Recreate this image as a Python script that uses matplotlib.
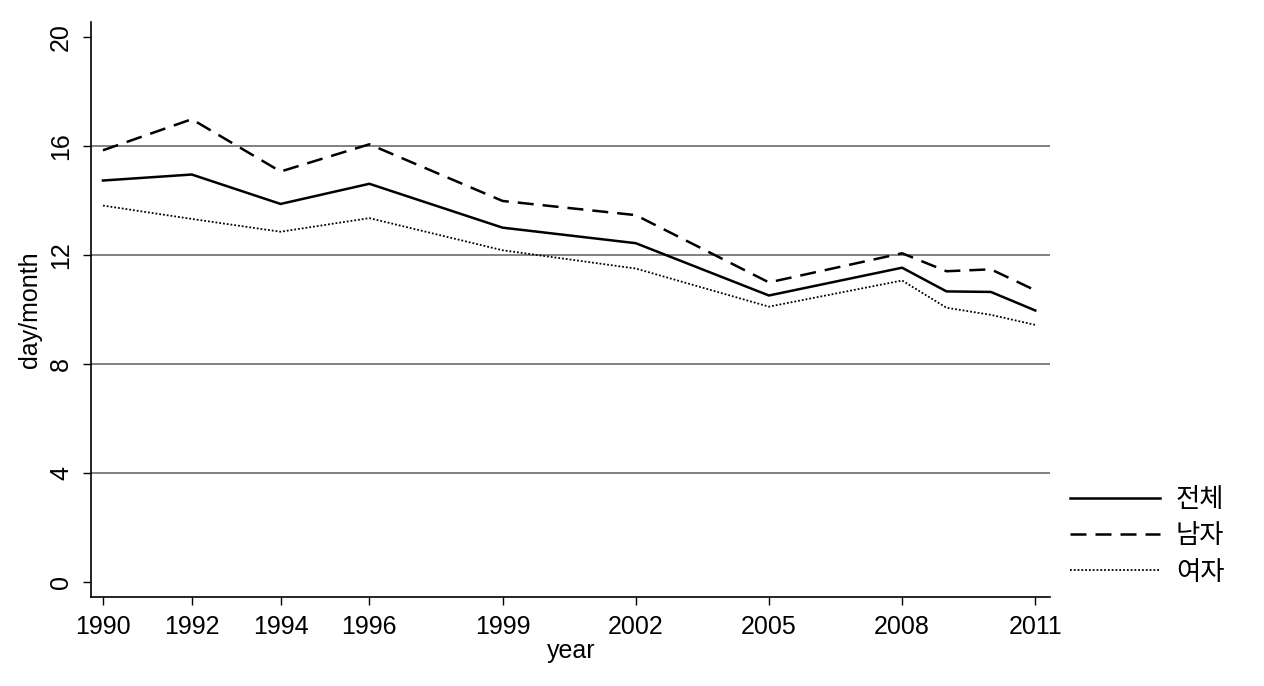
import matplotlib
matplotlib.use('Agg')
import matplotlib.pyplot as plt

plt.rcParams['font.family'] = ['Liberation Sans', 'Noto Sans CJK KR', 'DejaVu Sans']

years = [1990, 1992, 1994, 1996, 1999, 2002, 2005, 2008, 2009, 2010, 2011]
tick_years = [1990, 1992, 1994, 1996, 1999, 2002, 2005, 2008, 2011]
total = [14.73, 14.95, 13.87, 14.61, 13.00, 12.43, 10.51, 11.53, 10.66, 10.64, 9.96]
male = [15.84, 16.98, 15.06, 16.06, 13.98, 13.46, 10.99, 12.06, 11.40, 11.47, 10.70]
female = [13.81, 13.32, 12.85, 13.35, 12.17, 11.50, 10.10, 11.06, 10.06, 9.80, 9.43]
labels = ['전체', '남자', '여자']

fig = plt.figure(figsize=(12.64, 6.86), dpi=100)
ax = fig.add_axes([0.072, 0.130, 0.759, 0.838])

for y in [4, 8, 12, 16]:
    ax.axhline(y, color='#808080', lw=1.4, zorder=1)

ax.plot(years, total, color='black', lw=1.8, label=labels[0], zorder=3)
ax.plot(years, male, color='black', lw=1.8, dashes=(6.4, 3.6), label=labels[1], zorder=3)
ax.plot(years, female, color='black', lw=1.3, dashes=(1, 1.1), label=labels[2], zorder=3)

ax.set_xlim(1989.73, 2011.34)
ax.set_ylim(-0.55, 20.55)
ax.set_xticks(tick_years)
ax.set_xticklabels([str(y) for y in tick_years], fontsize=18)
ax.set_yticks([0, 4, 8, 12, 16, 20])
ax.set_yticklabels(['0', '4', '8', '12', '16', '20'], fontsize=18, rotation=90, va='center')
ax.tick_params(direction='out', length=6, width=1, color='black', pad=7)
ax.set_xlabel('year', fontsize=18, labelpad=0)
ax.set_ylabel('day/month', fontsize=18, labelpad=5)

for s in ['top', 'right']:
    ax.spines[s].set_visible(False)
for s in ['left', 'bottom']:
    ax.spines[s].set_linewidth(1.2)

leg = ax.legend(loc='upper left', bbox_to_anchor=(0.996, 0.234), frameon=False,
                handlelength=3.4, handletextpad=0.6, labelspacing=0.35,
                prop={'family': ['Noto Sans CJK KR', 'DejaVu Sans'], 'size': 19})

fig.savefig('out.png', dpi=100)
